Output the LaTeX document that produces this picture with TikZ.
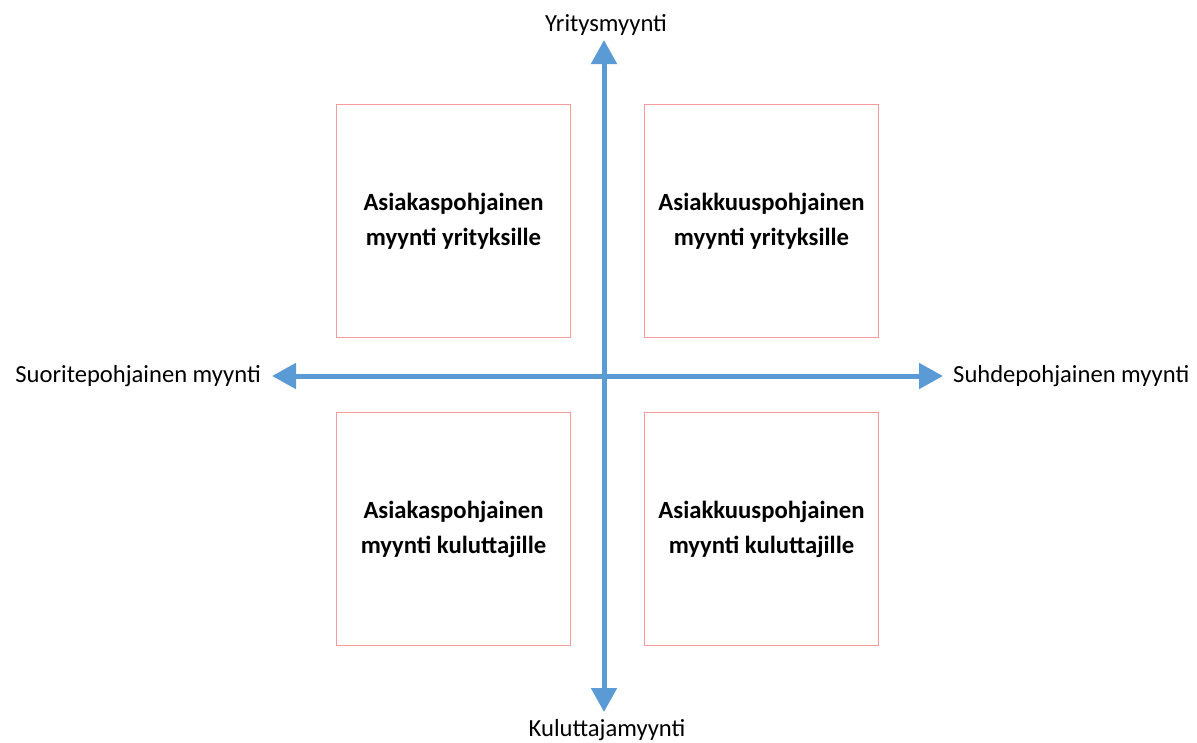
\documentclass[tikz,border=0pt]{standalone}
\usepackage{fontspec}
\setmainfont{Carlito}
\usetikzlibrary{arrows.meta}
\definecolor{axisblue}{HTML}{5B9BD5}
\definecolor{boxred}{HTML}{F79A9C}
\begin{document}
\begin{tikzpicture}[x=1pt,y=-1pt,
  quad/.style={draw=boxred,line width=1.8pt,minimum width=234pt,minimum height=233pt,inner sep=0pt,align=center,font=\fontsize{24.7}{35}\selectfont\bfseries},
  lbl/.style={font=\fontsize{24.6}{28}\selectfont,inner sep=0pt},
  axis/.style={draw=axisblue,line width=5pt,{Triangle[length=24pt,width=25pt]}-{Triangle[length=24pt,width=25pt]}}]
\useasboundingbox (0,0) rectangle (1197,742);
\coordinate (top) at (604,40);
\coordinate (bot) at (604,712);
\coordinate (left) at (272,376);
\coordinate (right) at (943,376);
\node[quad] (q1) at (453.5,221) {Asiakaspohjainen\\myynti yrityksille};
\node[quad] (q2) at (761.5,221) {Asiakkuuspohjainen\\myynti yrityksille};
\node[quad] (q3) at (453.5,529) {Asiakaspohjainen\\myynti kuluttajille};
\node[quad] (q4) at (761.5,529) {Asiakkuuspohjainen\\myynti kuluttajille};
\draw[axis] (bot) -- (top);
\draw[axis] (left) -- (right);
\node[lbl] (ly) at (606,25) {Yritysmyynti};
\node[lbl] (lk) at (607,730) {Kuluttajamyynti};
\node[lbl,anchor=east] (ls) at (261,376) {Suoritepohjainen myynti};
\node[lbl,anchor=west] (lh) at (953,376) {Suhdepohjainen myynti};
\end{tikzpicture}
\end{document}
